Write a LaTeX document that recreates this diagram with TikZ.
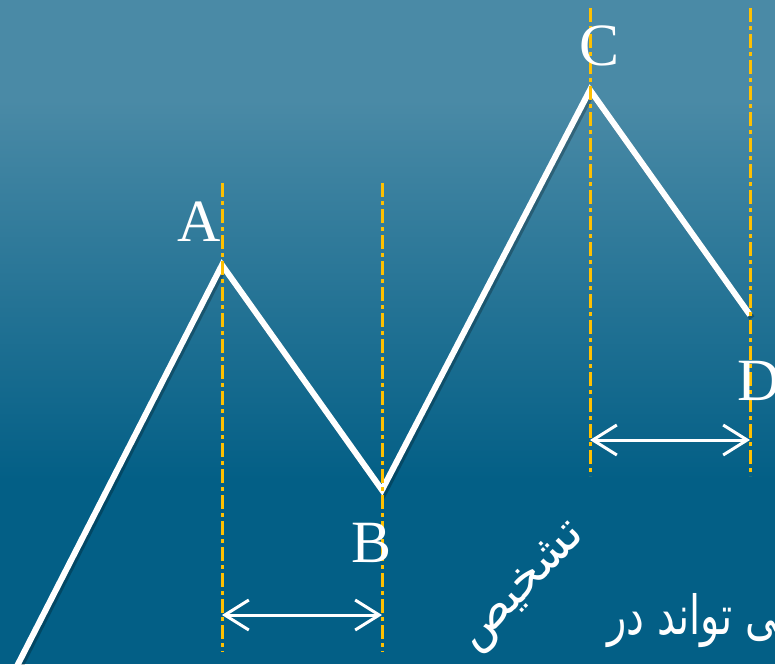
\documentclass[tikz,border=0pt]{standalone}
\usepackage{fontspec}
\setmainfont{Liberation Serif}
\newfontfamily\arabicfont[Script=Arabic]{DejaVu Sans}
\TeXXeTstate=1
\usetikzlibrary{arrows.meta}
\definecolor{bgtop}{RGB}{74,138,166}
\definecolor{bgbot}{RGB}{3,95,134}
\definecolor{guide}{RGB}{255,192,0}
\tikzset{
  guideline/.style={guide, line width=3pt, dash pattern=on 14pt off 4pt on 4pt off 4pt},
  zig/.style={white, line width=6pt, line join=miter},
  zigshadow/.style={black, opacity=0.25, line width=6pt},
  span/.style={white, line width=3pt, {Straight Barb[length=24pt,width=30pt,line width=3pt]}-{Straight Barb[length=24pt,width=30pt,line width=3pt]}},
  lbl/.style={white, font=\fontsize{60}{60}\selectfont, inner sep=0pt},
  fa/.style={white, font=\arabicfont\fontsize{40}{44}\selectfont, inner sep=0pt, yscale=1.35},
  fb/.style={white, font=\arabicfont\fontsize{48}{52}\selectfont, inner sep=0pt}
}
\begin{document}
\begin{tikzpicture}[x=1pt,y=-1pt]
\useasboundingbox (0,0) rectangle (775,664);
\clip (0,0) rectangle (775,664);
% background
\fill[bgtop] (0,0) rectangle (775,101);
\shade[top color=bgtop, bottom color=bgbot] (0,100) rectangle (775,480);
\fill[bgbot] (0,479) rectangle (775,664);
% coordinates
\coordinate (S) at (15,670);
\coordinate (A) at (222,265);
\coordinate (B) at (382,490);
\coordinate (C) at (590,90);
\coordinate (D) at (750,315);
% guides
\coordinate (gAt) at (222,183); \coordinate (gAb) at (222,652);
\coordinate (gBt) at (382,183); \coordinate (gBb) at (382,652);
\coordinate (gCt) at (590,8);   \coordinate (gCb) at (590,476);
\coordinate (gDt) at (750,8);   \coordinate (gDb) at (750,476);
% zigzag
\draw[zigshadow] ([shift={(2,3)}]S) -- ([shift={(2,3)}]A) -- ([shift={(2,3)}]B) -- ([shift={(2,3)}]C) -- ([shift={(2,3)}]D);
\draw[zig] (S) -- (A) -- (B) -- (C) -- (D);
\draw[guideline] (gAt) -- (gAb);
\draw[guideline] (gBt) -- (gBb);
\draw[guideline] (gCt) -- (gCb);
\draw[guideline] (gDt) -- (gDb);
% spans
\coordinate (s1l) at (222,615); \coordinate (s1r) at (382,615);
\coordinate (s2l) at (590,440); \coordinate (s2r) at (750,440);
\draw[span] (s1l) -- (s1r);
\draw[span] (s2l) -- (s2r);
% labels
\node[lbl, anchor=base] (lA) at (199,241) {A};
\node[lbl, anchor=base] (lB) at (372,562) {B};
\node[lbl, anchor=base] (lC) at (599,65) {C};
\node[lbl, anchor=base west] (lD) at (737,400) {D};
% persian text
\node[fa, anchor=base east] (t1) at (800,634) {\beginR می تواند در\endR};
\node[fb, rotate=46] (t2) at (524,588) {\beginR تشخیص\endR};
\end{tikzpicture}
\end{document}
